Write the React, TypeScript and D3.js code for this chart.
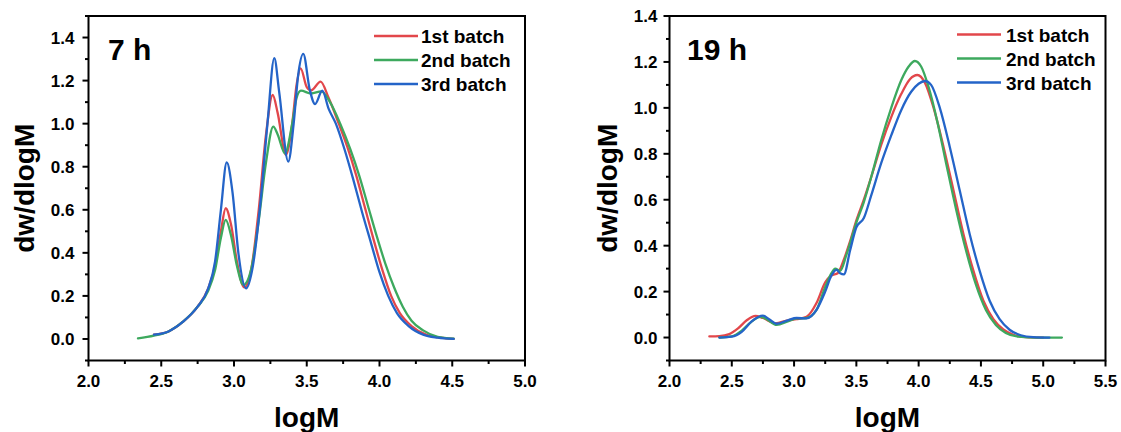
import React from "react";
import * as d3 from "d3";

// ---------- data ----------
const seriesNames = ["1st batch", "2nd batch", "3rd batch"];
const seriesColors = ["#E2474B", "#3DA95E", "#2464C8"];

// 7 h panel: [logM, dw/dlogM]
const h7First: [number, number][] = [
  [2.45, 0.02], [2.55, 0.035], [2.65, 0.08], [2.75, 0.15], [2.82, 0.23], [2.87, 0.34],
  [2.91, 0.5], [2.943, 0.607], [2.98, 0.53], [3.02, 0.36], [3.07, 0.24], [3.12, 0.33],
  [3.17, 0.6], [3.22, 0.95], [3.266, 1.133], [3.3, 1.05], [3.357, 0.855], [3.4, 1.0],
  [3.43, 1.18], [3.458, 1.257], [3.5, 1.17], [3.53, 1.155], [3.595, 1.195], [3.65, 1.12],
  [3.72, 1.0], [3.78, 0.89], [3.84, 0.76], [3.9, 0.61], [3.96, 0.46], [4.02, 0.32],
  [4.08, 0.2], [4.14, 0.12], [4.22, 0.06], [4.32, 0.02], [4.42, 0.006], [4.51, 0.0],
];
const h7Second: [number, number][] = [
  [2.34, 0.003], [2.45, 0.015], [2.55, 0.035], [2.65, 0.08], [2.75, 0.15], [2.82, 0.22],
  [2.87, 0.32], [2.91, 0.47], [2.943, 0.553], [2.98, 0.48], [3.02, 0.34], [3.064, 0.251],
  [3.12, 0.33], [3.17, 0.55], [3.22, 0.82], [3.27, 0.986], [3.3, 0.95], [3.35, 0.862],
  [3.4, 1.0], [3.43, 1.12], [3.46, 1.153], [3.53, 1.14], [3.6, 1.15], [3.66, 1.1],
  [3.73, 1.0], [3.8, 0.88], [3.86, 0.76], [3.92, 0.62], [3.98, 0.48], [4.04, 0.35],
  [4.1, 0.24], [4.16, 0.15], [4.22, 0.085], [4.3, 0.04], [4.4, 0.01], [4.51, 0.002],
];
const h7Third: [number, number][] = [
  [2.45, 0.02], [2.55, 0.035], [2.65, 0.08], [2.75, 0.15], [2.82, 0.23], [2.87, 0.36],
  [2.91, 0.6], [2.95, 0.82], [2.99, 0.68], [3.03, 0.4], [3.083, 0.235], [3.13, 0.34],
  [3.18, 0.62], [3.23, 1.0], [3.277, 1.304], [3.31, 1.15], [3.373, 0.824], [3.41, 1.0],
  [3.44, 1.22], [3.476, 1.324], [3.52, 1.16], [3.557, 1.091], [3.607, 1.153], [3.65, 1.07],
  [3.7, 1.0], [3.76, 0.88], [3.82, 0.74], [3.88, 0.59], [3.94, 0.45], [4.0, 0.31],
  [4.06, 0.2], [4.12, 0.12], [4.2, 0.06], [4.3, 0.02], [4.4, 0.006], [4.51, 0.0],
];

// 19 h panel
const h19First: [number, number][] = [
  [2.32, 0.005], [2.4, 0.006], [2.48, 0.015], [2.55, 0.04], [2.62, 0.075], [2.69, 0.094],
  [2.75, 0.085], [2.85, 0.062], [2.95, 0.075], [3.02, 0.08], [3.1, 0.09], [3.18, 0.15],
  [3.25, 0.24], [3.3, 0.27], [3.35, 0.28], [3.4, 0.34], [3.45, 0.42], [3.5, 0.51],
  [3.56, 0.6], [3.62, 0.7], [3.7, 0.84], [3.78, 0.96], [3.86, 1.06], [3.93, 1.125],
  [3.99, 1.143], [4.05, 1.11], [4.12, 1.0], [4.2, 0.83], [4.28, 0.64], [4.36, 0.45],
  [4.44, 0.29], [4.52, 0.16], [4.6, 0.08], [4.68, 0.035], [4.76, 0.012], [4.86, 0.002],
  [5.0, 0.0],
];
const h19Second: [number, number][] = [
  [2.4, 0.0], [2.5, 0.005], [2.58, 0.03], [2.65, 0.065], [2.73, 0.09], [2.78, 0.08],
  [2.86, 0.055], [2.95, 0.07], [3.02, 0.083], [3.1, 0.085], [3.18, 0.12], [3.25, 0.22],
  [3.3, 0.28], [3.33, 0.3], [3.37, 0.29], [3.42, 0.36], [3.5, 0.5], [3.56, 0.59],
  [3.62, 0.7], [3.7, 0.86], [3.78, 1.0], [3.86, 1.12], [3.92, 1.18], [3.97, 1.204],
  [4.02, 1.18], [4.08, 1.09], [4.15, 0.94], [4.22, 0.76], [4.3, 0.56], [4.38, 0.38],
  [4.46, 0.23], [4.54, 0.12], [4.62, 0.055], [4.7, 0.02], [4.8, 0.004], [4.95, 0.0],
  [5.15, 0.0],
];
const h19Third: [number, number][] = [
  [2.4, 0.0], [2.5, 0.004], [2.58, 0.025], [2.66, 0.07], [2.75, 0.095], [2.8, 0.08],
  [2.86, 0.06], [2.95, 0.075], [3.02, 0.085], [3.1, 0.083], [3.18, 0.12], [3.25, 0.2],
  [3.3, 0.27], [3.34, 0.295], [3.37, 0.28], [3.4, 0.275], [3.45, 0.38], [3.5, 0.48],
  [3.56, 0.52], [3.62, 0.62], [3.7, 0.76], [3.78, 0.88], [3.86, 0.99], [3.94, 1.07],
  [4.0, 1.105], [4.05, 1.117], [4.1, 1.1], [4.17, 1.0], [4.25, 0.83], [4.33, 0.64],
  [4.41, 0.45], [4.49, 0.29], [4.57, 0.16], [4.65, 0.08], [4.73, 0.034], [4.82, 0.01],
  [4.92, 0.002], [5.05, 0.0],
];

const panelLabels = ["7 h", "19 h"];
const xTitle = "logM";
const yTitle = "dw/dlogM";

// ---------- layout ----------
const W = 1121;
const H = 432;
const FONT = "'Liberation Sans', Arial, Helvetica, sans-serif";

type PanelCfg = {
  label: string;
  series: [number, number][][];
  left: number;
  right: number;
  top: number;
  bottom: number;
  xDomain: [number, number];
  yDomain: [number, number];
  yMajorMax: number;
  legendLineX: [number, number];
  legendTextX: number;
  legendY: number[];
  yTitleX: number;
  labelX: number;
  yLabelGap: number;
};

const panels: PanelCfg[] = [
  {
    label: panelLabels[0],
    series: [h7First, h7Second, h7Third],
    left: 88.5, right: 525, top: 16, bottom: 360.5,
    xDomain: [2, 5], yDomain: [-0.1, 1.5], yMajorMax: 1.4,
    legendLineX: [374, 418], legendTextX: 421, legendY: [36, 60, 84],
    yTitleX: 34, labelX: 108, yLabelGap: 14,
  },
  {
    label: panelLabels[1],
    series: [h19First, h19Second, h19Third],
    left: 669.5, right: 1105.5, top: 16, bottom: 360.5,
    xDomain: [2, 5.5], yDomain: [-0.1, 1.4], yMajorMax: 1.4,
    legendLineX: [957, 1001], legendTextX: 1006, legendY: [34.5, 58.5, 82.5],
    yTitleX: 617, labelX: 687, yLabelGap: 12,
  },
];

const fmt = d3.format(".1f");

function Panel({ cfg }: { cfg: PanelCfg }) {
  const x = d3.scaleLinear().domain(cfg.xDomain).range([cfg.left, cfg.right]);
  const y = d3.scaleLinear().domain(cfg.yDomain).range([cfg.bottom, cfg.top]);
  const line = d3
    .line<[number, number]>()
    .x((d) => x(d[0]))
    .y((d) => y(d[1]))
    .curve(d3.curveMonotoneX);

  const xMajor = d3.range(cfg.xDomain[0], cfg.xDomain[1] + 0.001, 0.5);
  const xMinor = d3.range(cfg.xDomain[0] + 0.25, cfg.xDomain[1], 0.5);
  const yMajor = d3.range(0, cfg.yMajorMax + 0.001, 0.2).map((v) => Math.round(v * 10) / 10);
  const yMinor = d3
    .range(-0.1, cfg.yDomain[1] + 0.001, 0.2)
    .map((v) => Math.round(v * 10) / 10)
    .filter((v) => v <= cfg.yDomain[1]);

  const cx = (cfg.left + cfg.right) / 2;
  const cy = (cfg.top + cfg.bottom) / 2;

  return (
    <g>
      {cfg.series.map((s, i) => (
        <path key={i} d={line(s) || ""} fill="none" stroke={seriesColors[i]} strokeWidth={2.3}
          strokeLinejoin="round" strokeLinecap="round" />
      ))}
      <rect x={cfg.left} y={cfg.top} width={cfg.right - cfg.left} height={cfg.bottom - cfg.top}
        fill="none" stroke="#000" strokeWidth={2} />
      {xMajor.map((v) => (
        <g key={"xm" + v}>
          <line x1={x(v)} x2={x(v)} y1={cfg.bottom} y2={cfg.bottom + 6} stroke="#000" strokeWidth={2} />
          <text x={x(v)} y={387} textAnchor="middle" fontSize={17} fontWeight="bold" fontFamily={FONT}>
            {fmt(v)}
          </text>
        </g>
      ))}
      {xMinor.map((v) => (
        <line key={"xn" + v} x1={x(v)} x2={x(v)} y1={cfg.bottom} y2={cfg.bottom + 3.5} stroke="#000" strokeWidth={2} />
      ))}
      {yMajor.map((v) => (
        <g key={"ym" + v}>
          <line x1={cfg.left - 6} x2={cfg.left} y1={y(v)} y2={y(v)} stroke="#000" strokeWidth={2} />
          <text x={cfg.left - cfg.yLabelGap} y={y(v) + 6} textAnchor="end" fontSize={17} fontWeight="bold" fontFamily={FONT}>
            {fmt(v)}
          </text>
        </g>
      ))}
      {yMinor.map((v) => (
        <line key={"yn" + v} x1={cfg.left - 3.5} x2={cfg.left} y1={y(v)} y2={y(v)} stroke="#000" strokeWidth={2} />
      ))}
      <text x={cx} y={427} textAnchor="middle" fontSize={28} fontWeight="bold" fontFamily={FONT}>
        {xTitle}
      </text>
      <text transform={`translate(${cfg.yTitleX},${cy}) rotate(-90)`} textAnchor="middle" fontSize={28}
        fontWeight="bold" fontFamily={FONT}>
        {yTitle}
      </text>
      <text x={cfg.labelX} y={60} fontSize={30} fontWeight="bold" fontFamily={FONT}>
        {cfg.label}
      </text>
      {seriesNames.map((n, i) => (
        <g key={n}>
          <line x1={cfg.legendLineX[0]} x2={cfg.legendLineX[1]} y1={cfg.legendY[i]} y2={cfg.legendY[i]}
            stroke={seriesColors[i]} strokeWidth={2.3} />
          <text x={cfg.legendTextX} y={cfg.legendY[i] + 7} fontSize={19} fontWeight="bold" fontFamily={FONT}>
            {n}
          </text>
        </g>
      ))}
    </g>
  );
}

export default function App() {
  return (
    <svg width={W} height={H} viewBox={`0 0 ${W} ${H}`}
      style={{ position: "absolute", left: 0, top: 0, background: "#fff" }}>
      <rect x={0} y={0} width={W} height={H} fill="#fff" />
      {panels.map((p) => (
        <Panel key={p.label} cfg={p} />
      ))}
    </svg>
  );
}
